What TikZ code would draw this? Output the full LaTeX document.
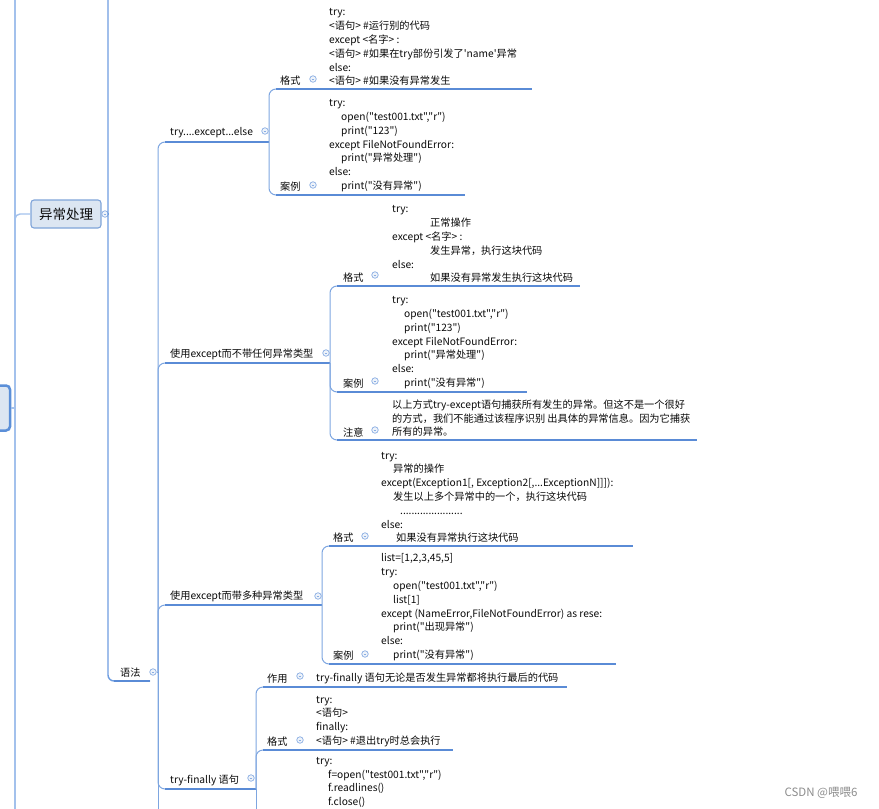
\documentclass[tikz,border=0pt]{standalone}
\usepackage{fontspec}
\newfontfamily\cjkfont{Noto Sans CJK SC}
\usepackage{tikz}
\usetikzlibrary{positioning}

\definecolor{inkc}{HTML}{0A0A0A}
\definecolor{boxfill}{HTML}{DCE6F2}
\definecolor{boxline}{HTML}{7FA4D9}
\definecolor{rootline}{HTML}{5B8FD8}
\definecolor{trunkc}{HTML}{A3C1EC}
\definecolor{spinec}{HTML}{6E9DE0}
\definecolor{linkc}{HTML}{7EA6E0}
\definecolor{ulinec}{HTML}{5A8BD6}
\definecolor{foldc}{HTML}{8AAEE3}
\definecolor{foldfill}{HTML}{EEF3FA}
\definecolor{markc}{HTML}{8C8C8C}

\begin{document}
\begin{tikzpicture}[
    x=1pt, y=-1pt,
    font=\cjkfont\fontsize{10.2}{13.8}\selectfont,
    topic/.style={inner sep=0pt, anchor=south west, text=inkc},
    codetxt/.style={inner sep=0pt, anchor=south west, align=left, text=inkc},
    mainbox/.style={rectangle, rounded corners=3pt, draw=boxline, line width=1.1pt, fill=boxfill, minimum width=70pt, minimum height=28pt, inner sep=0pt, text=inkc, font=\cjkfont\fontsize{13.5}{16}\selectfont},
    rootbox/.style={rectangle, rounded corners=4pt, draw=rootline, line width=2.5pt, fill=boxfill, minimum width=70pt, minimum height=45pt},
    trunk/.style={draw=trunkc, line width=2.6pt},
    spine/.style={draw=spinec, line width=1.4pt},
    link/.style={draw=linkc, line width=1pt, rounded corners=7pt},
    uline/.style={draw=ulinec, line width=1.8pt},
    fold/.style={circle, draw=foldc, fill=foldfill, line width=0.7pt, inner sep=0pt, minimum size=6.5pt,
        path picture={\draw[foldc, line width=0.5pt] ([xshift=-1.4pt]path picture bounding box.center) -- ([xshift=1.4pt]path picture bounding box.center);}},
    wmark/.style={inner sep=0pt, text=markc, font=\cjkfont\fontsize{11.5}{13}\selectfont}
]
\clip (0,0) rectangle (879,809);

% Root and main topic
\node[rootbox] (root) at (-25,408) {};
\coordinate (t0top) at (15,-10);
\coordinate (t0bot) at (15,820);
\draw[trunk] (t0top) -- (t0bot);
\draw[trunk] (root.east) -- (15,408);

\node[mainbox] (yc) at (66,214) {异常处理};
\node[fold] (yc-f) at (105,214) {};
\draw[trunk, line width=1.4pt, rounded corners=5pt] (yc.west) -| (15,232);

\coordinate (s1top) at (108,-10);
\coordinate (yf-end) at (150,681);
\draw[spine] (yc-f.east) -- (108,214);
\draw[spine, rounded corners=6pt] (s1top) |- (yf-end);

% 语法
\node[topic] (yf) at (120,678) {语法};
\node[fold] (yf-f) at (153,672) {};
\draw[uline] (114,681) -- (yf-end);
\coordinate (yf-hub) at (158,672);
\draw[link] (yf-f.east) -- (yf-hub);
\draw[link] (yf-hub) |- (175,142);
\draw[link] (yf-hub) |- (175,363);
\draw[link] (yf-hub) |- (175,605);
\draw[link] (yf-hub) |- (175,789);
\draw[link] (yf-hub) -- (158,820);

% try....except...else
\node[topic] (tee) at (170,138) {try....except...else};
\node[fold] (tee-f) at (265,131) {};
\coordinate (tee-hub) at (269,142);
\draw[uline] (165,142) -- (tee-hub);
\draw[link] (tee-hub) |- (285,89);
\draw[link] (tee-hub) |- (285,195);

\node[topic] (tee-fmt) at (280,86) {格式};
\node[fold] (tee-fmt-f) at (313,79) {};
\draw[uline] (276,89) -- (532,89);
\node[codetxt] (tee-fmt-t) at (329,86) {try:\\
<语句> \#运行别的代码\\
except <名字> :\\
<语句> \#如果在try部份引发了'name'异常\\
else:\\
<语句> \#如果没有异常发生};

\node[topic] (tee-case) at (280,192) {案例};
\node[fold] (tee-case-f) at (313,185) {};
\draw[uline] (276,195) -- (465,195);
\node[codetxt] (tee-case-t) at (329,192) {try:\\
\hspace*{12pt}open("test001.txt","r")\\
\hspace*{12pt}print("123")\\
except FileNotFoundError:\\
\hspace*{12pt}print("异常处理")\\
else:\\
\hspace*{12pt}print("没有异常")};

% 使用except而不带任何异常类型
\node[topic] (nox) at (170,360) {使用except而不带任何异常类型};
\node[fold] (nox-f) at (326,353) {};
\coordinate (nox-hub) at (330,363);
\draw[uline] (165,363) -- (nox-hub);
\draw[link] (nox-hub) |- (346,286);
\draw[link] (nox-hub) |- (346,392);
\draw[link] (nox-hub) |- (346,440);

\node[topic] (nox-fmt) at (343,283) {格式};
\node[fold] (nox-fmt-f) at (375,275) {};
\draw[uline] (337,286) -- (580,286);
\node[codetxt] (nox-fmt-t) at (392,283) {try:\\
\hspace*{38pt}正常操作\\
except <名字> :\\
\hspace*{38pt}发生异常，执行这块代码\\
else:\\
\hspace*{38pt}如果没有异常发生执行这块代码};

\node[topic] (nox-case) at (343,389) {案例};
\node[fold] (nox-case-f) at (375,381) {};
\draw[uline] (337,392) -- (527,392);
\node[codetxt] (nox-case-t) at (392,389) {try:\\
\hspace*{12pt}open("test001.txt","r")\\
\hspace*{12pt}print("123")\\
except FileNotFoundError:\\
\hspace*{12pt}print("异常处理")\\
else:\\
\hspace*{12pt}print("没有异常")};

\node[topic] (nox-note) at (343,437) {注意};
\node[fold] (nox-note-f) at (375,430) {};
\draw[uline] (337,440) -- (697,440);
\node[codetxt] (nox-note-t) at (392,437) {以上方式try-except语句捕获所有发生的异常。但这不是一个很好\\
的方式，我们不能通过该程序识别 出具体的异常信息。因为它捕获\\
所有的异常。};

% 使用except而带多种异常类型
\node[topic] (mtx) at (170,602) {使用except而带多种异常类型};
\node[fold] (mtx-f) at (318,596) {};
\coordinate (mtx-hub) at (322,605);
\draw[uline] (165,605) -- (mtx-hub);
\draw[link] (mtx-hub) |- (338,546);
\draw[link] (mtx-hub) |- (338,664);

\node[topic] (mtx-fmt) at (333,543) {格式};
\node[fold] (mtx-fmt-f) at (365,536) {};
\draw[uline] (329,546) -- (633,546);
\node[codetxt] (mtx-fmt-t) at (381,543) {try:\\
\hspace*{12pt}异常的操作\\
except(Exception1[, Exception2[,...ExceptionN]]]):\\
\hspace*{12pt}发生以上多个异常中的一个，执行这块代码\\
\hspace*{19pt}......................\\
else:\\
\hspace*{15pt}如果没有异常执行这块代码};

\node[topic] (mtx-case) at (333,661) {案例};
\node[fold] (mtx-case-f) at (365,654) {};
\draw[uline] (329,664) -- (616,664);
\node[codetxt] (mtx-case-t) at (381,661) {list=[1,2,3,45,5]\\
try:\\
\hspace*{12pt}open("test001.txt","r")\\
\hspace*{12pt}list[1]\\
except (NameError,FileNotFoundError) as rese:\\
\hspace*{12pt}print("出现异常")\\
else:\\
\hspace*{12pt}print("没有异常")};

% try-finally 语句
\node[topic] (tf) at (170,786) {try-finally 语句};
\node[fold] (tf-f) at (251,778) {};
\coordinate (tf-hub) at (256,789);
\draw[uline] (165,789) -- (tf-hub);
\draw[link] (tf-hub) |- (272,687);
\draw[link] (tf-hub) |- (272,750);
\draw[link] (tf-hub) -- (256,820);

\node[topic] (tf-use) at (267,684) {作用};
\node[fold] (tf-use-f) at (300,676) {};
\draw[uline] (263,687) -- (567,687);
\node[topic] (tf-use-t) at (316,684) {try-finally 语句无论是否发生异常都将执行最后的代码};

\node[topic] (tf-fmt) at (267,747) {格式};
\node[fold] (tf-fmt-f) at (300,740) {};
\draw[uline] (263,750) -- (453,750);
\node[codetxt] (tf-fmt-t) at (316,747) {try:\\
<语句>\\
finally:\\
<语句> \#退出try时总会执行};

\node[codetxt, anchor=north west] (tf-case-t) at (316,757) {try:\\
\hspace*{12pt}f=open("test001.txt","r")\\
\hspace*{12pt}f.readlines()\\
\hspace*{12pt}f.close()};

% watermark
\node[wmark] (csdn) at (821,793) {CSDN @喂喂6};
\end{tikzpicture}
\end{document}
